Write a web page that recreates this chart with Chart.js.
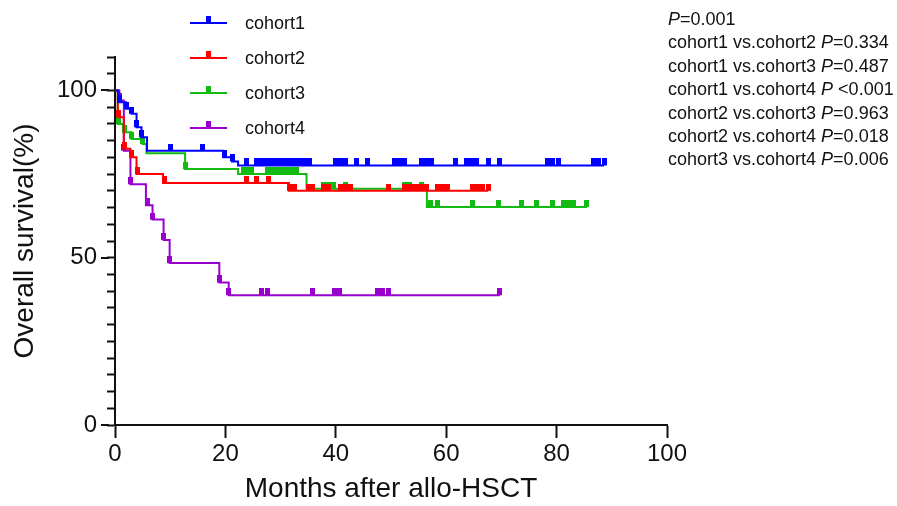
<!DOCTYPE html>
<html>
<head>
<meta charset="utf-8">
<script src="https://cdn.jsdelivr.net/npm/chart.js@4.4.1/dist/chart.umd.min.js"></script>
<style>
  body { margin: 0; background: #fff; }
  #wrap { position: relative; width: 897px; height: 506px; font-family: "Liberation Sans", Arial, sans-serif; color: #111; }
  #chart { position: absolute; left: 0; top: 0; }
  .leg { position: absolute; left: 190px; height: 24px; font-size: 18px; }
  .leg .ln { position: absolute; left: 0; top: 11px; width: 37px; height: 2px; }
  .leg .mk { position: absolute; left: 16px; top: 5px; width: 5px; height: 6px; }
  .leg .tx { position: absolute; left: 55px; top: 1px; line-height: 22px; white-space: nowrap; }
  #pvals { position: absolute; left: 668px; top: 8px; font-size: 18px; line-height: 23.4px; white-space: nowrap; }
  #pvals i { font-style: italic; }
</style>
</head>
<body>
<div id="wrap">
  <canvas id="chart" width="897" height="506"></canvas>
  <div id="legend"></div>
  <div id="pvals"></div>
</div>
<script>
// Data
const cohortNames = ['cohort1', 'cohort2', 'cohort3', 'cohort4'];
const cohortColors = ['#0000ff', '#ff0000', '#11bb11', '#9900cc'];

// step times (months) and survival (%) after each step
const c1Times = [0, 0.6, 2.0, 3.0, 3.9, 4.8, 5.8, 19.6, 21.2, 22.3];
const c1Surv = [100, 96.5, 94.5, 93, 89, 86, 82, 80, 78.8, 77.6];
const c1Censor = [0.9, 2.0, 3.0, 3.9, 4.8, 10.0, 15.9, 19.8, 21.2, 23.9, 25.7, 26.6, 27.5, 28.4, 29.3, 30.2, 31.1, 32.0, 32.9, 33.8, 34.7, 35.3, 39.9, 40.8, 41.7, 43.7, 45.7, 50.7, 51.6, 52.5, 55.6, 56.5, 57.4, 61.6, 63.7, 64.6, 65.5, 67.6, 69.7, 78.4, 79.3, 80.3, 86.6, 87.5, 88.6];

const c2Times = [0, 0.5, 1.6, 2.8, 3.9, 8.7, 31.5];
const c2Surv = [100, 92, 82.6, 80, 75, 72.3, 70];
const c2Censor = [0.6, 1.8, 2.9, 4.0, 8.9, 23.9, 25.7, 27.8, 31.7, 32.6, 35.0, 35.7, 37.7, 38.6, 40.8, 41.7, 42.6, 49.5, 52.5, 53.1, 53.8, 54.3, 54.9, 55.6, 56.5, 58.5, 59.4, 60.3, 64.7, 65.6, 66.5, 67.6];

const c3Times = [0, 0.5, 1.5, 3.0, 5.0, 5.7, 12.7, 22.3, 34.7, 56.5];
const c3Surv = [100, 90, 87.5, 85.5, 84, 81.2, 76.5, 75, 70.6, 65.2];
const c3Censor = [0.6, 1.8, 3.0, 5.0, 12.7, 23.2, 23.9, 24.8, 27.7, 28.6, 29.5, 30.4, 31.3, 32.2, 32.9, 37.7, 38.6, 39.5, 41.7, 52.5, 53.4, 55.6, 57.1, 58.5, 64.7, 69.4, 73.7, 76.4, 79.3, 81.2, 82.1, 83.0, 85.5];

const c4Times = [0, 0.8, 1.6, 2.8, 5.6, 6.8, 8.8, 9.9, 18.9, 20.6];
const c4Surv = [100, 97, 82, 72, 65.7, 61.4, 55.3, 48.4, 42.6, 38.8];
const c4Censor = [0.8, 1.6, 2.8, 5.8, 6.8, 8.8, 9.9, 18.9, 20.6, 26.6, 27.7, 35.7, 39.7, 40.6, 47.6, 48.5, 49.6, 69.7];

const xTicks = [0, 20, 40, 60, 80, 100];
const yMajorTicks = [0, 50, 100];

const pLines = [
  ['', 'P', '=0.001'],
  ['cohort1 vs.cohort2 ', 'P', '=0.334'],
  ['cohort1 vs.cohort3 ', 'P', '=0.487'],
  ['cohort1 vs.cohort4 ', 'P', ' <0.001'],
  ['cohort2 vs.cohort3 ', 'P', '=0.963'],
  ['cohort2 vs.cohort4 ', 'P', '=0.018'],
  ['cohort3 vs.cohort4 ', 'P', '=0.006']
];

const curves = [
  [c1Times, c1Surv, c1Censor],
  [c2Times, c2Surv, c2Censor],
  [c3Times, c3Surv, c3Censor],
  [c4Times, c4Surv, c4Censor]
];

function survAt(times, surv, t) {
  let s = surv[0];
  for (let i = 0; i < times.length; i++) {
    if (times[i] <= t) s = surv[i];
  }
  return s;
}

// censor mark: small square sitting on top of the line
function censorMark(color) {
  const c = document.createElement('canvas');
  c.width = 5;
  c.height = 14;
  const g = c.getContext('2d');
  g.fillStyle = color;
  g.fillRect(0, 0, 5, 7);
  return c;
}

const datasets = [];
curves.forEach(function(cv, i) {
  const times = cv[0], surv = cv[1], cens = cv[2];
  const pts = times.map(function(t, k) { return { x: t, y: surv[k] }; });
  const tEnd = cens[cens.length - 1];
  pts.push({ x: tEnd, y: survAt(times, surv, tEnd) });
  datasets.push({
    label: cohortNames[i] + ' marks',
    data: cens.map(function(t) { return { x: t, y: survAt(times, surv, t) }; }),
    showLine: false,
    pointStyle: censorMark(cohortColors[i]),
    pointRadius: 3,
    order: i
  });
  datasets.push({
    label: cohortNames[i],
    data: pts,
    stepped: 'before',
    borderColor: cohortColors[i],
    borderWidth: 2,
    pointRadius: 0,
    fill: false,
    order: i
  });
});

const majorTickPlugin = {
  id: 'majorTicks',
  afterDraw: function(chart) {
    const y = chart.scales.y;
    const ctx = chart.ctx;
    ctx.save();
    ctx.strokeStyle = '#111';
    ctx.lineWidth = 2;
    yMajorTicks.forEach(function(v) {
      const py = Math.round(y.getPixelForValue(v));
      ctx.beginPath();
      ctx.moveTo(y.right - 14, py);
      ctx.lineTo(y.right - 6, py);
      ctx.stroke();
    });
    ctx.restore();
  }
};

const font = '"Liberation Sans", Arial, sans-serif';

new Chart(document.getElementById('chart').getContext('2d'), {
  type: 'line',
  data: { datasets: datasets },
  plugins: [majorTickPlugin],
  options: {
    responsive: false,
    animation: false,
    devicePixelRatio: 1,
    layout: { padding: { left: 0, top: 57, right: 230, bottom: 0 } },
    plugins: { legend: { display: false }, tooltip: { enabled: false } },
    scales: {
      x: {
        type: 'linear',
        min: 0,
        max: 100,
        afterFit: function(s) { s.height = 81; },
        afterBuildTicks: function(s) { s.ticks = xTicks.map(function(v) { return { value: v }; }); },
        border: { color: '#111', width: 2 },
        grid: { drawOnChartArea: false, tickLength: 13, tickColor: '#111', tickWidth: 2 },
        ticks: { color: '#111', padding: 2, maxRotation: 0, font: { family: font, size: 24 } },
        title: { display: true, text: 'Months after allo-HSCT', color: '#111', padding: { top: 0, bottom: 0 }, font: { family: font, size: 28 } }
      },
      y: {
        type: 'linear',
        min: 0,
        max: 110,
        afterFit: function(s) { s.width = 115; },
        border: { color: '#111', width: 2 },
        grid: { drawOnChartArea: false, tickLength: 8, tickColor: '#111', tickWidth: 2 },
        ticks: {
          stepSize: 5,
          autoSkip: false,
          color: '#111',
          padding: 10,
          font: { family: font, size: 24 },
          callback: function(v) { return yMajorTicks.indexOf(v) >= 0 ? String(v) : ''; }
        },
        title: { display: true, text: 'Overall survival(%)', color: '#111', padding: { top: 8, bottom: 0 }, font: { family: font, size: 28 } }
      }
    }
  }
});

// legend
const legend = document.getElementById('legend');
cohortNames.forEach(function(name, i) {
  const it = document.createElement('div');
  it.className = 'leg';
  it.style.top = (11 + 35 * i) + 'px';
  it.innerHTML = '<div class="ln" style="background:' + cohortColors[i] + '"></div>' +
    '<div class="mk" style="background:' + cohortColors[i] + '"></div>' +
    '<div class="tx">' + name + '</div>';
  legend.appendChild(it);
});

// p values
const pv = document.getElementById('pvals');
pv.innerHTML = pLines.map(function(l) {
  return '<div>' + l[0] + '<i>' + l[1] + '</i>' + l[2] + '</div>';
}).join('');
</script>
</body>
</html>
